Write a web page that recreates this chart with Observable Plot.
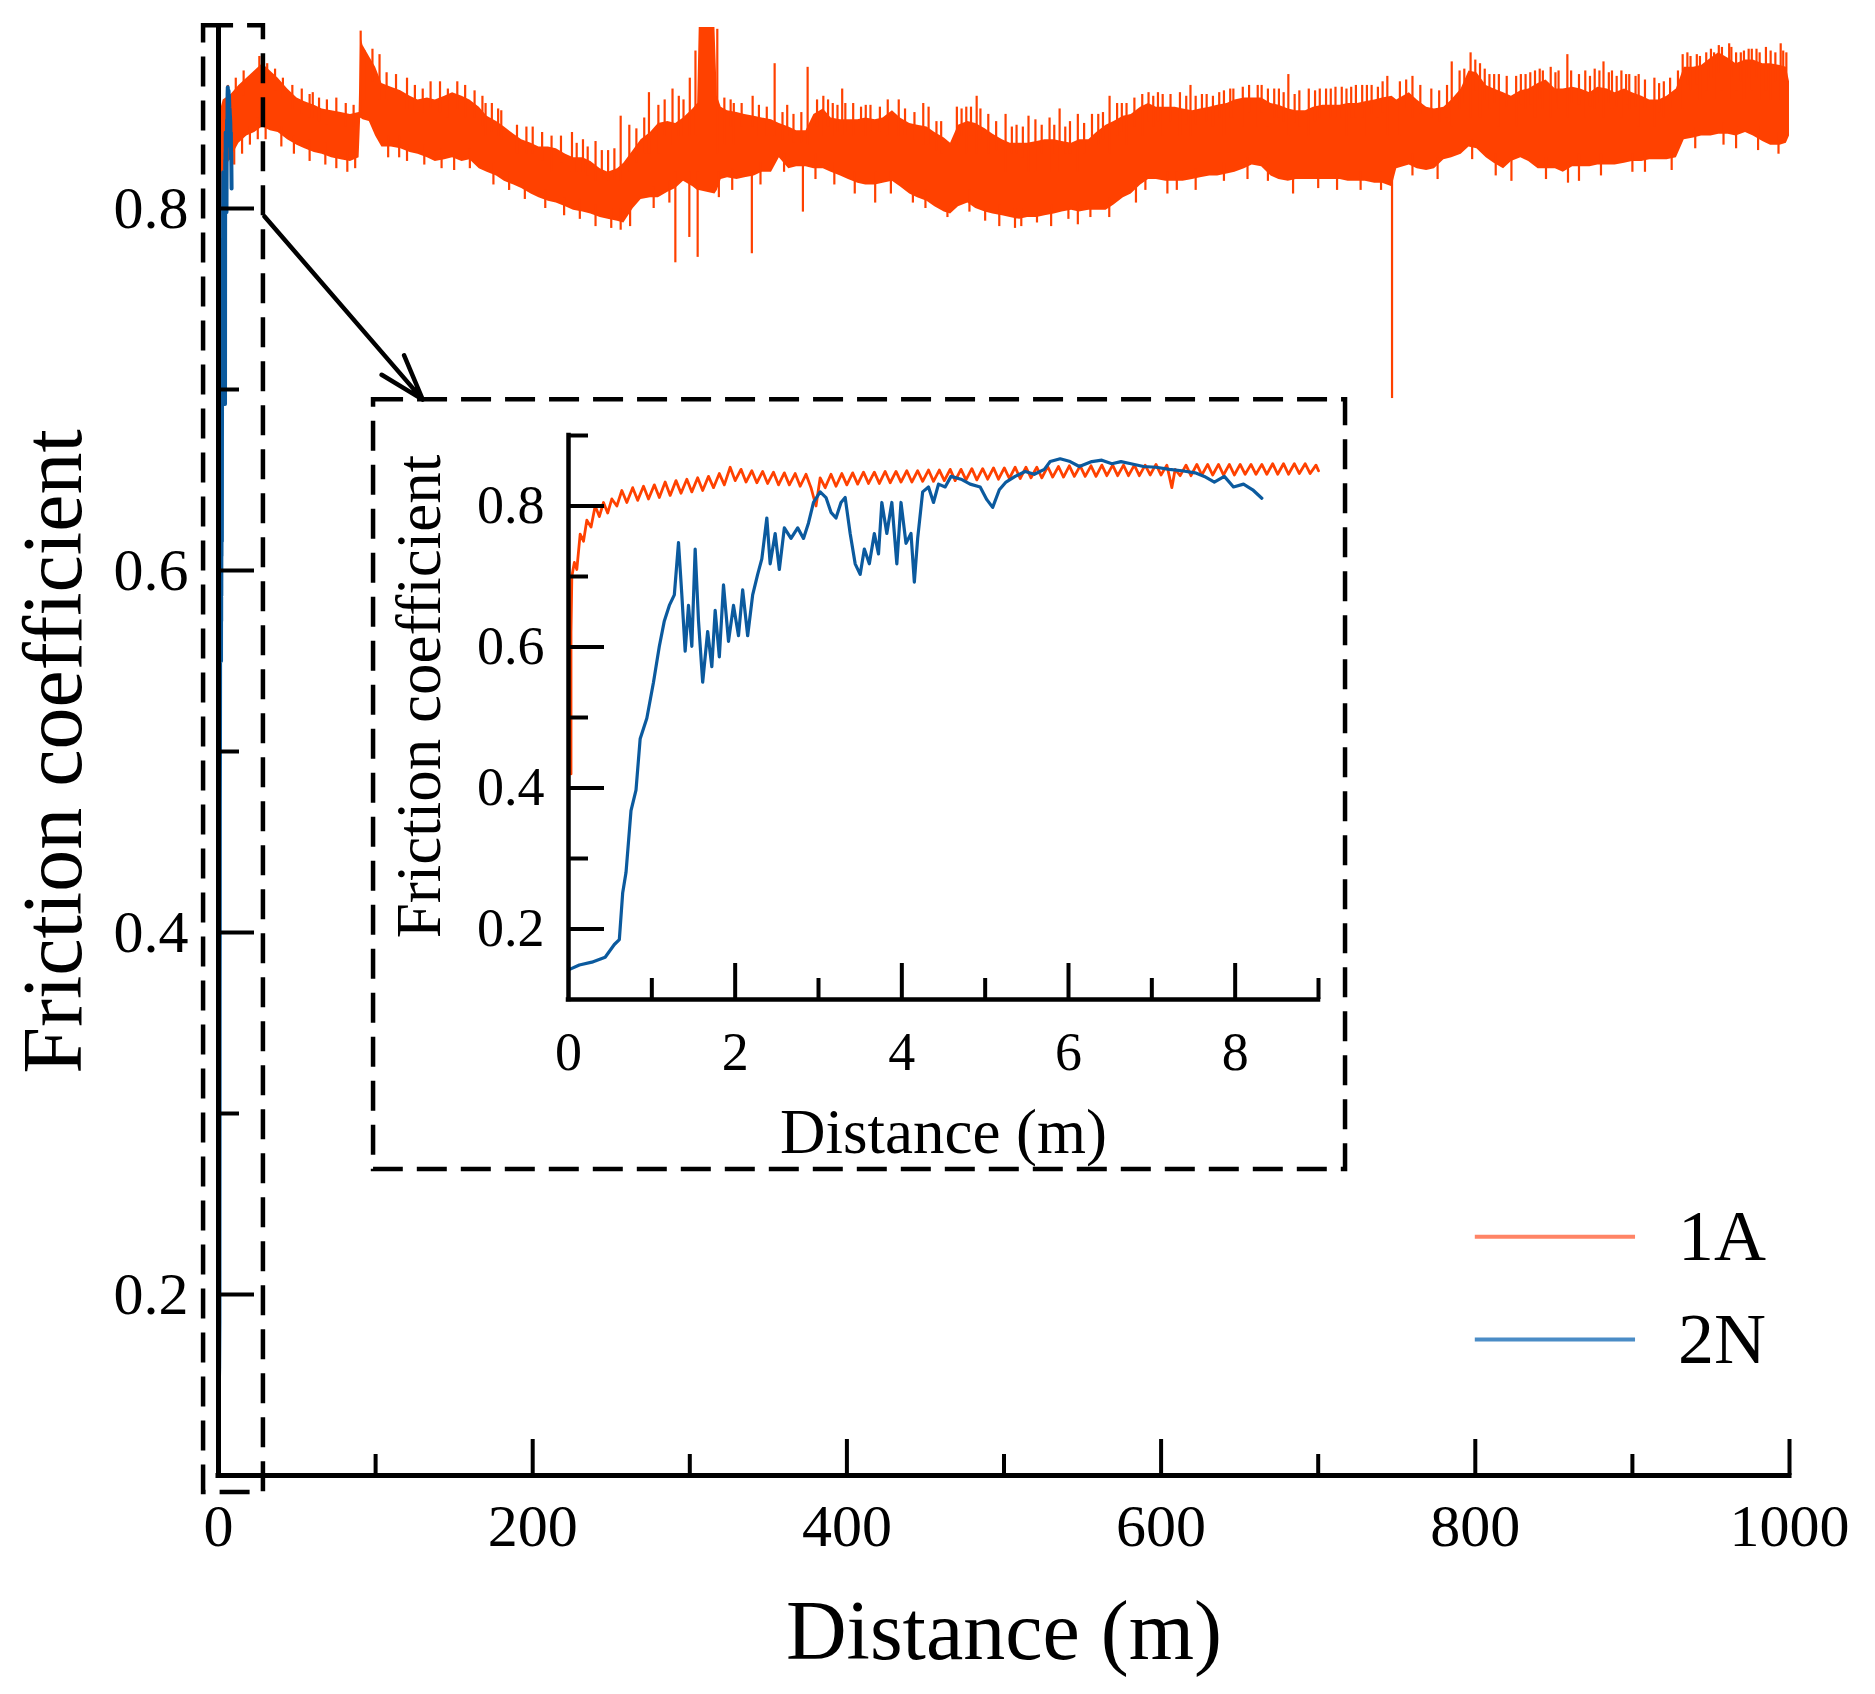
<!DOCTYPE html>
<html>
<head>
<meta charset="utf-8">
<script src="https://cdn.jsdelivr.net/npm/d3@7"></script>
<script src="https://cdn.jsdelivr.net/npm/@observablehq/plot@0.6"></script>
<style>
  html, body { margin: 0; padding: 0; background: #fff; }
  #wrap { position: relative; width: 1875px; height: 1694px; overflow: hidden; }
  #wrap svg { display: block; }
</style>
</head>
<body>
<div id="wrap"></div>
<script>
// ---------- DATA ----------
const seriesNames = ["1A", "2N"];

// 1A over 0–1000 m: band of the noisy trace, [distance, lower edge, upper edge]
const band1A = [
  [0,0.70,0.850],[3,0.820,0.860],[8,0.828,0.863],[13,0.836,0.868],[18,0.840,0.872],[23,0.842,0.876],
  [28,0.845,0.880],[33,0.843,0.876],[38,0.842,0.872],[44,0.838,0.866],[50,0.835,0.861],[55,0.833,0.859],
  [61,0.831,0.857],[66,0.830,0.855],[72,0.828,0.854],[78,0.827,0.853],[84,0.826,0.852],[89.5,0.828,0.853],
  [90.5,0.850,0.895],[92,0.849,0.890],[96,0.848,0.884],[100,0.840,0.878],[104,0.834,0.869],[110,0.834,0.867],
  [116,0.833,0.865],[122,0.831,0.862],[127,0.830,0.860],[133,0.828,0.861],[138,0.826,0.860],[144,0.827,0.862],
  [149,0.828,0.864],[155,0.826,0.862],[160,0.827,0.860],[166,0.822,0.856],[171,0.820,0.851],[177,0.818,0.848],
  [182,0.815,0.845],[188,0.813,0.841],[193,0.811,0.838],[199,0.808,0.836],[204,0.806,0.834],[210,0.804,0.834],
  [215,0.803,0.833],[221,0.801,0.830],[226,0.799,0.828],[232,0.798,0.828],[237,0.797,0.826],[243,0.795,0.822],
  [248,0.794,0.820],[254,0.793,0.822],[258,0.792,0.825],[264,0.800,0.832],[269,0.805,0.838],[275,0.806,0.842],
  [280,0.806,0.847],[286,0.809,0.848],[291,0.811,0.847],[296,0.815,0.850],[302,0.812,0.855],[305,0.810,0.858],
  [306,0.810,0.900],[316,0.808,0.900],[317.5,0.810,0.862],[320,0.816,0.856],[324,0.817,0.854],[330,0.816,0.853],
  [335,0.817,0.852],[341,0.818,0.851],[346,0.820,0.850],[352,0.820,0.849],[357,0.828,0.847],[363,0.822,0.845],
  [368,0.823,0.843],[374,0.823,0.843],[379,0.822,0.852],[385,0.822,0.855],[390,0.820,0.850],[396,0.818,0.849],
  [401,0.816,0.849],[407,0.814,0.849],[412,0.813,0.850],[418,0.813,0.849],[423,0.814,0.850],[429,0.815,0.854],
  [434,0.812,0.850],[440,0.808,0.847],[445,0.806,0.846],[451,0.804,0.845],[456,0.801,0.842],[462,0.798,0.839],
  [466,0.797,0.836],[471,0.801,0.846],[477,0.803,0.848],[482,0.800,0.847],[488,0.798,0.844],[493,0.797,0.841],
  [499,0.796,0.838],[504,0.795,0.836],[510,0.794,0.836],[515,0.795,0.836],[521,0.795,0.837],[526,0.796,0.838],
  [532,0.797,0.838],[537,0.798,0.837],[543,0.799,0.836],[548,0.798,0.838],[554,0.799,0.838],[559,0.799,0.842],
  [565,0.799,0.846],[570,0.802,0.848],[576,0.806,0.851],[581,0.808,0.852],[587,0.813,0.856],[592,0.816,0.858],
  [597,0.816,0.856],[603,0.815,0.856],[609,0.815,0.856],[614,0.815,0.855],[620,0.816,0.854],[625,0.817,0.855],
  [631,0.818,0.856],[636,0.818,0.857],[642,0.819,0.858],[647,0.820,0.860],[653,0.822,0.861],[658,0.824,0.861],
  [664,0.823,0.861],[670,0.818,0.858],[675,0.816,0.857],[681,0.815,0.855],[686,0.816,0.854],[692,0.816,0.854],
  [697,0.816,0.856],[703,0.816,0.857],[708,0.816,0.857],[714,0.816,0.857],[719,0.815,0.858],[725,0.815,0.858],
  [730,0.815,0.859],[736,0.814,0.860],[741,0.814,0.861],[747,0.812,0.862],[750,0.822,0.860],[758,0.824,0.864],
  [763,0.822,0.860],[769,0.821,0.856],[774,0.822,0.855],[780,0.827,0.856],[785,0.828,0.860],[791,0.830,0.866],
  [796,0.834,0.876],[801,0.833,0.875],[807,0.828,0.868],[812,0.825,0.866],[818,0.822,0.864],[823,0.826,0.862],
  [829,0.828,0.865],[834,0.826,0.866],[840,0.822,0.869],[845,0.822,0.871],[851,0.822,0.866],[856,0.820,0.866],
  [862,0.823,0.867],[867,0.823,0.866],[873,0.823,0.864],[878,0.824,0.867],[884,0.824,0.866],[889,0.824,0.864],
  [895,0.825,0.866],[900,0.826,0.864],[906,0.826,0.862],[911,0.827,0.860],[917,0.827,0.860],[922,0.827,0.862],
  [928,0.828,0.866],[933,0.838,0.878],[939,0.839,0.878],[944,0.840,0.879],[950,0.840,0.883],[955,0.841,0.886],
  [961,0.841,0.883],[966,0.840,0.880],[972,0.842,0.882],[977,0.840,0.882],[983,0.837,0.880],[988,0.835,0.880],
  [994,0.835,0.879],[998,0.836,0.878],[1000,0.840,0.870]
];

// tall isolated spikes of 1A: [distance, from, to]
const spikes1A = [
  [90.5,0.85,0.898],[93,0.86,0.887],[102.5,0.86,0.885],[146,0.85,0.866],[157,0.85,0.868],[163,0.85,0.865],
  [170,0.84,0.858],[190,0.83,0.846],[212,0.82,0.840],[225,0.82,0.842],[240,0.815,0.837],[256,0.815,0.851],
  [261.5,0.82,0.846],[274,0.83,0.864],[280,0.83,0.857],[289,0.835,0.866],[296,0.84,0.860],[300,0.84,0.872],
  [303.6,0.84,0.887],[317.5,0.83,0.899],[322,0.835,0.861],[328,0.835,0.858],[354,0.84,0.880],[375,0.835,0.878],
  [385,0.84,0.862],[391,0.84,0.858],[397,0.84,0.866],[412,0.84,0.857],[426,0.84,0.860],[448.6,0.835,0.858],
  [452,0.835,0.856],[476,0.83,0.856],[482.6,0.83,0.862],[490,0.83,0.852],[501,0.82,0.852],[515.6,0.82,0.851],
  [520,0.82,0.849],[529,0.82,0.850],[535.4,0.82,0.855],[547,0.82,0.852],[556,0.82,0.852],[567.2,0.83,0.862],
  [578,0.835,0.858],[588,0.84,0.863],[601,0.84,0.863],[612,0.84,0.864],[618.7,0.84,0.868],[626,0.84,0.863],
  [640,0.84,0.865],[652,0.845,0.867],[661.5,0.845,0.868],[668,0.845,0.866],[681,0.84,0.874],[694,0.84,0.866],
  [705,0.84,0.866],[718,0.84,0.866],[731,0.84,0.868],[744,0.84,0.873],[752,0.84,0.870],[785,0.845,0.881],
  [797,0.85,0.886],[803,0.85,0.880],[815,0.845,0.874],[826,0.845,0.873],[838,0.85,0.876],[848,0.85,0.878],
  [858.6,0.85,0.885],[870,0.85,0.876],[881.6,0.85,0.881],[893,0.85,0.876],[904,0.845,0.874],[914,0.845,0.872],
  [932,0.855,0.885],[943,0.86,0.884],[952,0.86,0.886],[961.6,0.86,0.891],[971,0.86,0.887],[981,0.86,0.886],
  [988,0.86,0.887],[994.4,0.86,0.891],
  [290.8,0.82,0.770],[299.7,0.82,0.784],[305,0.82,0.773],[318.5,0.82,0.806],[339.5,0.82,0.775],
  [372,0.825,0.798],[418,0.82,0.803],[511,0.80,0.790],[604,0.82,0.808],[747,0.82,0.695]
];

// short fuzz on the band edges of 1A: [distance, from, to]
const fuzz1A = [
  [6,0.855,0.868],[11,0.86,0.872],[16,0.862,0.876],[26,0.87,0.884],[31,0.868,0.880],[36,0.865,0.877],[41,0.86,0.872],
  [47,0.855,0.868],[53,0.852,0.866],[58,0.85,0.863],[60,0.85,0.864],[64,0.848,0.861],[69,0.846,0.860],[75,0.85,0.861],
  [81,0.845,0.858],[86,0.845,0.857],[98,0.87,0.888],[107,0.86,0.875],[113,0.858,0.874],[120,0.855,0.872],
  [125,0.853,0.868],[130,0.853,0.866],[135,0.855,0.870],[141,0.853,0.870],[152,0.855,0.870],[168,0.845,0.862],
  [174,0.842,0.858],[178,0.84,0.855],[180,0.838,0.854],[196,0.83,0.845],[200,0.83,0.845],[206,0.826,0.842],
  [218,0.825,0.840],[228,0.82,0.836],[232,0.82,0.838],[235,0.818,0.834],[244,0.815,0.832],[248,0.815,0.832],
  [252,0.815,0.833],[266,0.825,0.844],[271,0.83,0.85],[284,0.84,0.86],[293,0.84,0.862],[326,0.845,0.860],
  [333,0.845,0.858],[340,0.845,0.862],[344,0.84,0.857],[349,0.84,0.856],[359,0.838,0.853],[362,0.84,0.857],
  [366,0.836,0.852],[371,0.836,0.853],[381,0.845,0.860],[388,0.845,0.86],[394,0.842,0.857],[399,0.842,0.858],
  [404,0.84,0.858],[409,0.842,0.856],[415,0.842,0.857],[421,0.842,0.856],[433,0.84,0.860],[437,0.84,0.855],
  [443,0.838,0.853],[457,0.832,0.848],[460,0.83,0.848],[470,0.835,0.856],[473,0.84,0.855],[479,0.84,0.856],
  [485,0.838,0.855],[495,0.832,0.848],[505,0.83,0.845],[508,0.83,0.846],[512,0.828,0.845],[524,0.83,0.846],
  [532,0.83,0.846],[539,0.83,0.845],[542,0.83,0.848],[551,0.83,0.847],[560,0.835,0.852],[563,0.838,0.853],
  [572,0.84,0.858],[575,0.842,0.858],[583,0.845,0.861],[592,0.848,0.864],[595,0.845,0.862],[598,0.848,0.864],
  [606,0.848,0.863],[616,0.846,0.862],[622,0.846,0.862],[629,0.848,0.863],[633,0.845,0.862],[637,0.85,0.864],
  [644,0.85,0.866],[646,0.85,0.866],[656,0.853,0.868],[664,0.853,0.868],[672,0.85,0.866],[675,0.85,0.866],
  [678,0.848,0.864],[685,0.847,0.863],[688,0.845,0.865],[698,0.848,0.865],[701,0.85,0.866],[708,0.85,0.866],
  [711,0.85,0.867],[715,0.85,0.867],[721,0.85,0.867],[724,0.85,0.868],[728,0.85,0.868],[734,0.852,0.868],
  [738,0.85,0.867],[741,0.853,0.870],[756,0.855,0.871],[760,0.85,0.873],[765,0.852,0.868],[772,0.85,0.866],
  [777,0.848,0.865],[782,0.85,0.868],[790,0.855,0.876],[793,0.858,0.877],[800,0.865,0.882],[806,0.86,0.877],
  [809,0.855,0.874],[812,0.858,0.874],[820,0.856,0.873],[829,0.857,0.874],[832,0.855,0.874],[835,0.857,0.875],
  [841,0.86,0.877],[843,0.855,0.876],[851,0.858,0.875],[853,0.855,0.876],[861,0.858,0.876],[866,0.857,0.874],
  [873,0.856,0.873],[876,0.855,0.877],[879,0.858,0.876],[885,0.858,0.875],[887,0.855,0.876],[890,0.856,0.873],
  [896,0.857,0.874],[898,0.855,0.874],[902,0.856,0.873],[908,0.855,0.871],[917,0.853,0.869],[920,0.85,0.870],
  [924,0.855,0.872],[929,0.86,0.876],[935,0.868,0.886],[937,0.865,0.884],[941,0.868,0.885],[947,0.865,0.886],
  [950,0.872,0.888],[955,0.875,0.89],[957,0.865,0.889],[963,0.872,0.889],[966,0.865,0.886],[969,0.87,0.886],
  [974,0.872,0.888],[976,0.865,0.888],[979,0.872,0.888],[985,0.865,0.889],[991,0.87,0.886],[996,0.87,0.887],
  [998,0.865,0.886],
  [5,0.83,0.818],[10,0.836,0.824],[15,0.842,0.83],[20,0.845,0.835],[25,0.85,0.838],[30,0.85,0.838],[40,0.845,0.834],
  [48,0.84,0.830],[58,0.838,0.826],[68,0.836,0.824],[75,0.832,0.822],[82,0.832,0.82],[87,0.834,0.822],
  [108,0.84,0.828],[115,0.84,0.828],[120,0.835,0.826],[131,0.835,0.824],[142,0.833,0.822],[150,0.83,0.821],
  [160,0.833,0.822],[175,0.825,0.813],[185,0.82,0.810],[195,0.815,0.805],[208,0.81,0.8],[220,0.806,0.796],
  [230,0.805,0.794],[240,0.802,0.79],[250,0.80,0.789],[256,0.80,0.788],[262,0.80,0.790],[277,0.812,0.8],
  [287,0.815,0.803],[327,0.822,0.81],[345,0.825,0.813],[360,0.83,0.82],[380,0.83,0.816],[392,0.825,0.813],
  [405,0.82,0.808],[428,0.82,0.808],[442,0.815,0.803],[450,0.81,0.800],[464,0.80,0.795],[478,0.81,0.798],
  [488,0.80,0.793],[497,0.802,0.79],[507,0.80,0.789],[521,0.80,0.792],[530,0.802,0.79],[541,0.80,0.794],
  [547,0.803,0.791],[555,0.80,0.795],[567,0.806,0.795],[584,0.815,0.803],[590,0.82,0.810],[610,0.82,0.81],
  [622,0.822,0.81],[640,0.825,0.815],[655,0.828,0.816],[668,0.828,0.815],[684,0.82,0.808],[700,0.82,0.811],
  [712,0.82,0.81],[727,0.82,0.81],[740,0.82,0.810],[760,0.83,0.818],[776,0.828,0.816],[798,0.838,0.827],
  [813,0.83,0.818],[823,0.83,0.815],[845,0.828,0.816],[859,0.826,0.814],[866,0.83,0.815],[880,0.83,0.818],
  [900,0.83,0.820],[908,0.832,0.82],[925,0.832,0.821],[940,0.845,0.833],[958,0.847,0.835],[966,0.845,0.833],
  [980,0.845,0.832],[993,0.842,0.83]
];

// 1A over the first 9 m (inset)
const early1A = [
  [0.03,0.42],[0.03,0.62],[0.04,0.70],[0.07,0.72],[0.10,0.71],[0.14,0.76],[0.18,0.75],[0.22,0.78],[0.27,0.77],
  [0.32,0.80],[0.37,0.785],[0.42,0.805],[0.47,0.79],[0.52,0.81],[0.58,0.80],[0.64,0.822],[0.70,0.805],
  [0.77,0.826],[0.83,0.808],[0.90,0.828],[0.96,0.810],[1.03,0.830],[1.09,0.812],[1.16,0.834],[1.22,0.815],
  [1.29,0.836],[1.35,0.818],[1.42,0.838],[1.48,0.820],[1.55,0.840],[1.61,0.822],[1.68,0.842],[1.74,0.826],
  [1.81,0.846],[1.87,0.830],[1.94,0.855],[2.00,0.836],[2.07,0.852],[2.13,0.834],[2.20,0.850],[2.26,0.833],
  [2.33,0.849],[2.39,0.832],[2.46,0.848],[2.52,0.830],[2.59,0.847],[2.65,0.830],[2.72,0.846],[2.78,0.828],
  [2.85,0.845],[2.91,0.826],[2.97,0.800],[3.02,0.840],[3.08,0.826],[3.15,0.845],[3.21,0.828],[3.28,0.846],
  [3.34,0.830],[3.41,0.847],[3.47,0.831],[3.54,0.848],[3.60,0.832],[3.67,0.848],[3.73,0.832],[3.80,0.849],
  [3.86,0.833],[3.93,0.849],[3.99,0.834],[4.06,0.850],[4.12,0.834],[4.19,0.850],[4.25,0.835],[4.32,0.851],
  [4.38,0.835],[4.45,0.851],[4.51,0.836],[4.58,0.852],[4.64,0.836],[4.71,0.852],[4.77,0.837],[4.84,0.853],
  [4.90,0.837],[4.97,0.853],[5.03,0.838],[5.10,0.854],[5.16,0.838],[5.23,0.854],[5.29,0.839],[5.36,0.855],
  [5.42,0.839],[5.49,0.855],[5.55,0.840],[5.62,0.855],[5.68,0.840],[5.75,0.856],[5.81,0.841],[5.88,0.856],
  [5.94,0.841],[6.01,0.857],[6.07,0.842],[6.14,0.857],[6.20,0.842],[6.27,0.857],[6.33,0.842],[6.40,0.858],
  [6.46,0.843],[6.53,0.858],[6.59,0.843],[6.66,0.858],[6.72,0.843],[6.79,0.858],[6.85,0.843],[6.92,0.858],
  [6.98,0.844],[7.05,0.859],[7.11,0.844],[7.18,0.858],[7.24,0.826],[7.28,0.852],[7.34,0.843],[7.41,0.858],
  [7.47,0.843],[7.54,0.859],[7.60,0.844],[7.67,0.859],[7.73,0.844],[7.80,0.859],[7.86,0.844],[7.93,0.859],
  [7.99,0.844],[8.06,0.859],[8.12,0.845],[8.19,0.859],[8.25,0.845],[8.32,0.859],[8.38,0.845],[8.45,0.860],
  [8.51,0.845],[8.58,0.860],[8.64,0.845],[8.71,0.860],[8.77,0.846],[8.84,0.860],[8.90,0.846],[8.97,0.858],
  [9.00,0.850]
];

// 2N (whole run, 0–8.3 m)
const dist2N = [0,0.13,0.28,0.44,0.55,0.61,0.65,0.69,0.75,0.81,0.86,0.94,1.02,1.09,1.15,1.21,1.27,1.32,1.36,1.40,
  1.44,1.48,1.52,1.56,1.61,1.67,1.72,1.76,1.81,1.86,1.92,1.98,2.04,2.09,2.15,2.21,2.27,2.32,2.38,2.42,
  2.48,2.53,2.59,2.67,2.75,2.82,2.88,2.94,3.02,3.09,3.15,3.21,3.27,3.32,3.38,3.44,3.50,3.55,3.61,3.67,
  3.72,3.76,3.82,3.88,3.94,3.99,4.05,4.11,4.15,4.19,4.25,4.32,4.38,4.44,4.52,4.59,4.71,4.82,4.94,5.02,
  5.09,5.17,5.25,5.36,5.48,5.59,5.71,5.78,5.90,6.02,6.13,6.28,6.40,6.52,6.63,6.75,6.90,7.05,7.21,7.36,
  7.52,7.63,7.75,7.87,7.98,8.10,8.21,8.32];
const mu2N = [0.142,0.149,0.153,0.160,0.178,0.185,0.251,0.280,0.368,0.397,0.470,0.499,0.550,0.601,0.637,0.659,0.674,0.748,0.674,0.594,
  0.659,0.601,0.739,0.637,0.550,0.622,0.572,0.652,0.586,0.688,0.608,0.659,0.616,0.681,0.616,0.674,0.703,0.725,0.783,0.718,
  0.761,0.710,0.769,0.754,0.769,0.754,0.776,0.805,0.820,0.812,0.791,0.783,0.805,0.812,0.761,0.718,0.703,0.739,0.718,0.761,
  0.732,0.805,0.761,0.805,0.718,0.805,0.747,0.761,0.692,0.754,0.820,0.827,0.805,0.831,0.827,0.842,0.838,0.831,0.827,0.809,
  0.798,0.823,0.834,0.842,0.849,0.845,0.852,0.863,0.867,0.863,0.856,0.863,0.865,0.860,0.863,0.860,0.856,0.855,0.852,0.850,
  0.847,0.842,0.834,0.842,0.827,0.831,0.823,0.811];

// ticks
const mainXLabels = [0, 200, 400, 600, 800, 1000];
const mainXMajor = [200, 400, 600, 800, 1000];
const mainXMinor = [100, 300, 500, 700, 900];
const mainYLabels = [0.2, 0.4, 0.6, 0.8];
const mainYMinor = [0.3, 0.5, 0.7];
const insetXLabels = [0, 2, 4, 6, 8];
const insetXMajor = [2, 4, 6, 8];
const insetXMinor = [1, 3, 5, 7, 9];
const insetYLabels = [0.2, 0.4, 0.6, 0.8];
const insetYMinor = [0.3, 0.5, 0.7, 0.9];

// annotations (data coordinates of the main chart)
const zoomBox = {x1: -9.5, x2: 28.6, y1: 0.0906, y2: 0.901};
const insetBox = {x1: 98.7, x2: 717.4, y1: 0.2691, y2: 0.6944};
const pointer = {x1: 29.3, y1: 0.7956, x2: 130, y2: 0.6944};
const legendPos = {x1: 800, x2: 902, tx: 929, y: [0.2319, 0.1751]};

// ---------- STYLE ----------
const FONT = "'Liberation Serif', 'Times New Roman', Times, serif";
const ORANGE = "#ff4100";
const BLUE = "#0b5a9e";
const LEG_COLORS = ["#ff8466", "#4a8cc6"];
const idx2N = d3.range(dist2N.length);
const fmt1 = d3.format(".1f");
const fmtInt = d3.format("d");
const blank = () => "";

// ---------- MAIN CHART ----------
const mainChart = Plot.plot({
  width: 1875, height: 1694,
  marginLeft: 218, marginRight: 86, marginTop: 27, marginBottom: 219,
  x: {domain: [0, 1000]},
  y: {domain: [0.1, 0.9]},
  style: {fontFamily: FONT, fontSize: "60px", color: "black", background: "white", overflow: "visible"},
  marks: [
    Plot.areaY(band1A, {x: d => d[0], y1: d => d[1], y2: d => d[2], fill: ORANGE}),
    Plot.ruleX(fuzz1A, {x: d => d[0], y1: d => d[1], y2: d => d[2], stroke: ORANGE, strokeWidth: 2.2}),
    Plot.ruleX(spikes1A, {x: d => d[0], y1: d => d[1], y2: d => d[2], stroke: ORANGE, strokeWidth: 2.2}),
    Plot.line(idx2N, {x: i => dist2N[i], y: i => mu2N[i], stroke: BLUE, strokeWidth: 4}),
    Plot.ruleX([0], {stroke: "black", strokeWidth: 5, strokeLinecap: "square"}),
    Plot.ruleY([0.1], {stroke: "black", strokeWidth: 5, strokeLinecap: "square"}),
    Plot.axisX({ticks: mainXMajor, tickSize: -36, tickFormat: blank, label: null, strokeWidth: 4}),
    Plot.axisX({ticks: mainXMinor, tickSize: -21, tickFormat: blank, label: null, strokeWidth: 4}),
    Plot.axisY({ticks: mainYLabels, tickSize: -36, tickFormat: blank, label: null, strokeWidth: 4}),
    Plot.axisY({ticks: mainYMinor, tickSize: -21, tickFormat: blank, label: null, strokeWidth: 4}),
    Plot.axisX({ticks: mainXLabels, tickSize: 0, tickPadding: 28, tickFormat: fmtInt, label: null, fontSize: 60}),
    Plot.axisY({ticks: mainYLabels, tickSize: 0, tickPadding: 30, tickFormat: fmt1, label: null, fontSize: 60}),
    Plot.text(["Distance (m)"], {frameAnchor: "bottom", dy: 157, textAnchor: "middle", lineAnchor: "middle", fontSize: 84}),
    Plot.text(["Friction coefficient"], {frameAnchor: "left", dx: -164, rotate: -90, textAnchor: "middle", lineAnchor: "middle", fontSize: 84}),
    Plot.rect([zoomBox], {x1: "x1", x2: "x2", y1: "y1", y2: "y2", fill: "none", stroke: "black", strokeWidth: 4.5, strokeDasharray: "30,14"}),
    Plot.rect([insetBox], {x1: "x1", x2: "x2", y1: "y1", y2: "y2", fill: "none", stroke: "black", strokeWidth: 4.5, strokeDasharray: "30,14"}),
    Plot.arrow([pointer], {x1: "x1", y1: "y1", x2: "x2", y2: "y2", stroke: "black", strokeWidth: 4.5, headLength: 16, headAngle: 36}),
    Plot.ruleY([seriesNames[0]], {y: () => legendPos.y[0], x1: legendPos.x1, x2: legendPos.x2, stroke: LEG_COLORS[0], strokeWidth: 4}),
    Plot.ruleY([seriesNames[1]], {y: () => legendPos.y[1], x1: legendPos.x1, x2: legendPos.x2, stroke: LEG_COLORS[1], strokeWidth: 4}),
    Plot.text(seriesNames, {x: legendPos.tx, y: (d, i) => legendPos.y[i], text: d => d, textAnchor: "start", lineAnchor: "middle", fontSize: 72})
  ]
});

const wrapEl = document.getElementById("wrap");
wrapEl.appendChild(mainChart);

// ---------- INSET ----------
const sx = mainChart.scale("x"), sy = mainChart.scale("y");
const boxLeft = sx.apply(insetBox.x1), boxRight = sx.apply(insetBox.x2);
const boxTop = sy.apply(insetBox.y2), boxBottom = sy.apply(insetBox.y1);

const insetChart = Plot.plot({
  width: Math.round(boxRight - boxLeft), height: Math.round(boxBottom - boxTop),
  marginLeft: 195, marginRight: 27, marginTop: 36, marginBottom: 170,
  x: {domain: [0, 9]},
  y: {domain: [0.1, 0.9]},
  style: {fontFamily: FONT, fontSize: "54px", color: "black", background: "transparent", overflow: "visible"},
  marks: [
    Plot.line(early1A, {x: d => d[0], y: d => d[1], stroke: ORANGE, strokeWidth: 2.8}),
    Plot.line(idx2N, {x: i => dist2N[i], y: i => mu2N[i], stroke: BLUE, strokeWidth: 3.2}),
    Plot.ruleX([0], {stroke: "black", strokeWidth: 4.5, strokeLinecap: "square"}),
    Plot.ruleY([0.1], {stroke: "black", strokeWidth: 4.5, strokeLinecap: "square"}),
    Plot.axisX({ticks: insetXMajor, tickSize: -36, tickFormat: blank, label: null, strokeWidth: 4}),
    Plot.axisX({ticks: insetXMinor, tickSize: -21, tickFormat: blank, label: null, strokeWidth: 4}),
    Plot.axisY({ticks: insetYLabels, tickSize: -36, tickFormat: blank, label: null, strokeWidth: 4}),
    Plot.axisY({ticks: insetYMinor, tickSize: -20, tickFormat: blank, label: null, strokeWidth: 4}),
    Plot.axisX({ticks: insetXLabels, tickSize: 0, tickPadding: 32, tickFormat: fmtInt, label: null, fontSize: 54}),
    Plot.axisY({ticks: insetYLabels, tickSize: 0, tickPadding: 24, tickFormat: fmt1, label: null, fontSize: 54}),
    Plot.text(["Distance (m)"], {frameAnchor: "bottom", dy: 133, textAnchor: "middle", lineAnchor: "middle", fontSize: 63}),
    Plot.text(["Friction coefficient"], {frameAnchor: "left", dx: -149, dy: -21, rotate: -90, textAnchor: "middle", lineAnchor: "middle", fontSize: 63})
  ]
});
insetChart.style.position = "absolute";
insetChart.style.left = boxLeft + "px";
insetChart.style.top = boxTop + "px";
wrapEl.appendChild(insetChart);
</script>
</body>
</html>
